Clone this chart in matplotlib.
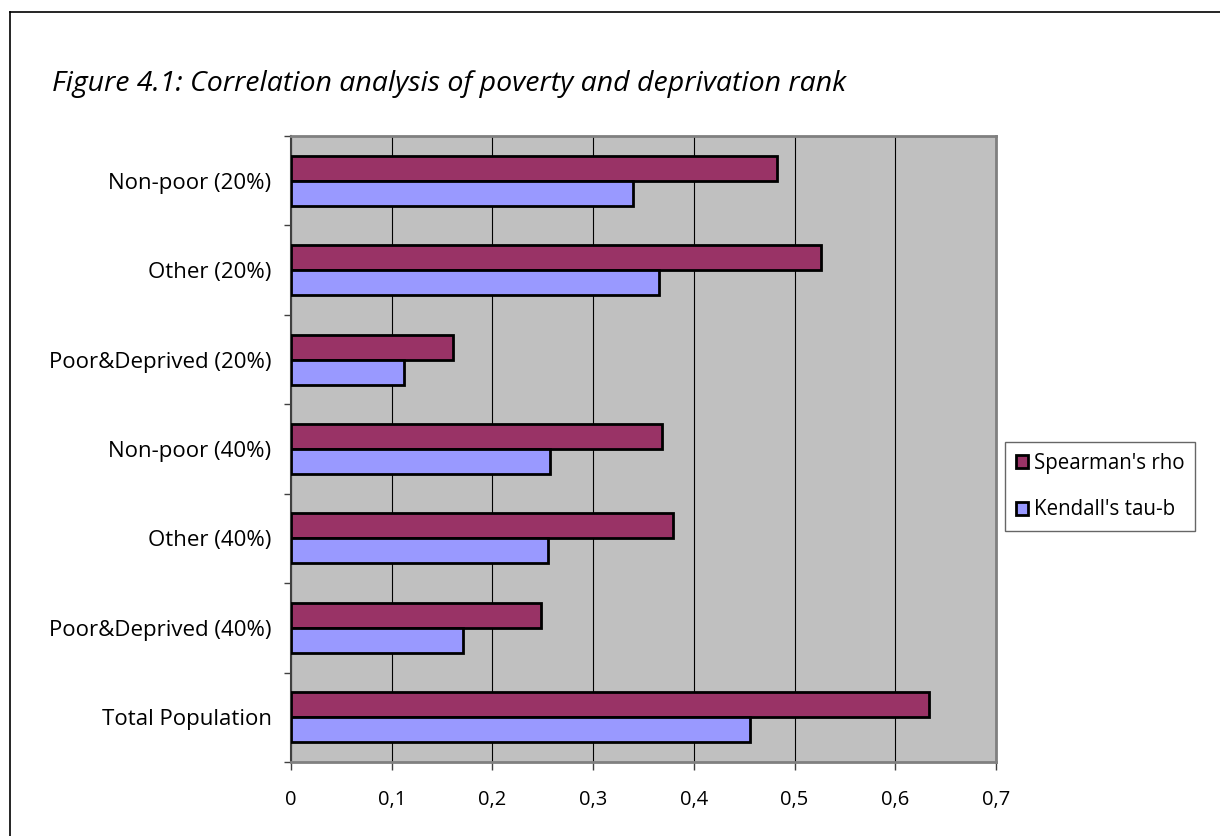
import matplotlib.pyplot as plt
import matplotlib.patches as mpatches
import numpy as np

# Data (bottom to top, as drawn)
categories = ['Total Population', 'Poor&Deprived (40%)', 'Other (40%)',
              'Non-poor (40%)', 'Poor&Deprived (20%)', 'Other (20%)',
              'Non-poor (20%)']
spearman = [0.633, 0.248, 0.379, 0.368, 0.161, 0.526, 0.483]
kendall = [0.456, 0.171, 0.255, 0.257, 0.112, 0.365, 0.340]
xticks = [0, 0.1, 0.2, 0.3, 0.4, 0.5, 0.6, 0.7]
xticklabels = ['0', '0,1', '0,2', '0,3', '0,4', '0,5', '0,6', '0,7']

plt.rcParams['font.family'] = ['Open Sans', 'DejaVu Sans']

fig = plt.figure(figsize=(12.2, 8.36), dpi=100)
ax = fig.add_axes([0.2385, 0.0885, 0.5779, 0.7488])
ax.set_facecolor('#C0C0C0')

y = np.arange(len(categories))
h = 0.28
ax.barh(y + h / 2, spearman, height=h, color='#993366', edgecolor='black',
        linewidth=2, label="Spearman's rho", zorder=3)
ax.barh(y - h / 2, kendall, height=h, color='#9999FF', edgecolor='black',
        linewidth=2, label="Kendall's tau-b", zorder=3)

ax.set_xlim(0, 0.7)
ax.set_ylim(-0.5, len(categories) - 0.5)
ax.set_xticks(xticks)
ax.set_xticklabels(xticklabels, fontsize=14.5)
ax.set_yticks(y)
ax.set_yticklabels(categories, fontsize=16)
ax.set_yticks(np.arange(-0.5, len(categories)), minor=True)
ax.tick_params(axis='y', which='major', length=0, pad=14)
ax.tick_params(axis='y', which='minor', length=5, width=1, color='#404040')
ax.tick_params(axis='x', length=6, width=1, color='#404040', pad=14)
ax.grid(axis='x', color='black', linewidth=0.8, zorder=1)

for side in ['top', 'right', 'bottom']:
    ax.spines[side].set_color('#808080')
    ax.spines[side].set_linewidth(2)
ax.spines['left'].set_color('#404040')
ax.spines['left'].set_linewidth(1.5)

fig.text(0.043, 0.900, 'Figure 4.1: Correlation analysis of poverty and '
         'deprivation rank', fontsize=20.5, style='italic', va='center')

handles = [mpatches.Patch(facecolor='#993366', edgecolor='black', linewidth=2),
           mpatches.Patch(facecolor='#9999FF', edgecolor='black', linewidth=2)]
leg = fig.legend(handles, ["Spearman's rho", "Kendall's tau-b"],
                 loc='center left', bbox_to_anchor=(0.824, 0.418),
                 fontsize=14.8, handlelength=0.6, handleheight=0.6,
                 handletextpad=0.3, labelspacing=1.25, fancybox=False,
                 borderpad=0.5, borderaxespad=0)
leg.get_frame().set_edgecolor('#404040')
leg.get_frame().set_linewidth(1)

# outer frame: only left and top edges fall inside the picture
fig.add_artist(plt.Line2D([0.0085, 0.0085], [0, 0.986], color='black',
                          linewidth=1.2, transform=fig.transFigure))
fig.add_artist(plt.Line2D([0.0085, 1], [0.986, 0.986], color='black',
                          linewidth=1.2, transform=fig.transFigure))

fig.savefig('out.png', dpi=100)
